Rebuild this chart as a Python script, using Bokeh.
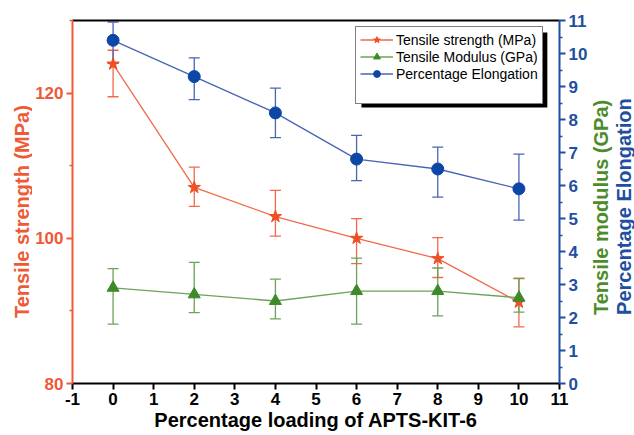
from bokeh.plotting import figure
from bokeh.layouts import row
from bokeh.models import (Range1d, LinearAxis, FixedTicker, Whisker, TeeHead,
                          ColumnDataSource, Legend, LegendItem, BoxAnnotation)
from bokeh.core.properties import value
from bokeh.embed import file_html
from bokeh.resources import INLINE

# ---- data ----
loading = [0, 2, 4, 6, 8, 10]
strength = [124.0, 107.0, 103.0, 100.0, 97.2, 91.2]
strength_lo = [119.5, 104.4, 100.3, 96.5, 94.6, 87.8]
strength_hi = [125.9, 109.8, 106.6, 102.7, 100.1, 94.5]
modulus = [2.9, 2.7, 2.5, 2.8, 2.8, 2.6]
modulus_lo = [1.8, 2.15, 1.96, 1.8, 2.05, 2.16]
modulus_hi = [3.48, 3.67, 3.16, 3.8, 3.5, 3.18]
elong = [10.4, 9.3, 8.2, 6.8, 6.5, 5.9]
elong_lo = [9.7, 8.6, 7.45, 6.15, 5.65, 4.95]
elong_hi = [10.95, 9.87, 8.95, 7.52, 7.16, 6.95]

x_ticks = [-1, 0, 1, 2, 3, 4, 5, 6, 7, 8, 9, 10, 11]
x_tick_labels = {-1: "-1"}
left_major = [80, 100, 120]
left_minor = [90, 110, 130]
right_major = [0, 1, 2, 3, 4, 5, 6, 7, 8, 9, 10, 11]
right_minor = [0.5, 1.5, 2.5, 3.5, 4.5, 5.5, 6.5, 7.5, 8.5, 9.5, 10.5]

x_title = "Percentage loading of APTS-KIT-6"
left_title = ["Tensile strength (MPa)"]
right_titles = ["Tensile modulus (GPa)", "Percentage Elongation"]
names = ["Tensile strength (MPa)", "Tensile Modulus (GPa)", "Percentage Elongation"]

# ---- styles ----
RED_TXT = "#EE5A36"
RED_MK = "#F04E23"
RED_LN = "#F2694A"
GRN_TXT = "#4C8C2B"
GRN_MK = "#3E8A2A"
GRN_LN = "#6BA35A"
BLU_TXT = "#1E4FA0"
BLU_MK = "#0D47A6"
BLU_LN = "#4865B4"
FONT = "Liberation Sans"
LEFT_W = 32
SIDE_W = 44
MAIN_W = 634 - LEFT_W - SIDE_W
H = 435

p = figure(width=MAIN_W, height=H, x_range=Range1d(-1, 11), y_range=Range1d(80, 130),
           output_backend="svg", toolbar_location=None,
           min_border_left=40, min_border_right=31, min_border_top=20, min_border_bottom=52)
p.extra_y_ranges = {"right": Range1d(0, 11)}
p.xgrid.visible = False
p.ygrid.visible = False
p.outline_line_color = None
p.background_fill_color = "white"
p.border_fill_color = "white"

# bottom axis
xa = p.xaxis[0]
xa.ticker = FixedTicker(ticks=x_ticks, minor_ticks=[])
xa.major_label_overrides = x_tick_labels
xa.axis_line_color = "black"
xa.axis_line_width = 2
xa.major_tick_line_color = "black"
xa.major_tick_line_width = 2
xa.major_tick_out = 6
xa.major_tick_in = 0
xa.minor_tick_line_color = None
xa.major_label_text_font = FONT
xa.major_label_text_font_size = "17px"
xa.major_label_text_font_style = "bold"
xa.major_label_text_color = "black"
xa.major_label_standoff = 3
xa.axis_label = x_title
xa.axis_label_text_font = FONT
xa.axis_label_text_font_size = "20px"
xa.axis_label_text_font_style = "bold"
xa.axis_label_text_color = "black"
xa.axis_label_standoff = 1

# left axis
ya = p.yaxis[0]
ya.ticker = FixedTicker(ticks=left_major, minor_ticks=left_minor)
ya.axis_line_color = RED_TXT
ya.axis_line_width = 2
ya.major_tick_line_color = RED_TXT
ya.major_tick_line_width = 2
ya.major_tick_out = 6
ya.major_tick_in = 0
ya.minor_tick_line_color = RED_TXT
ya.minor_tick_line_width = 1.5
ya.minor_tick_out = 3
ya.minor_tick_in = 0
ya.major_label_text_font = FONT
ya.major_label_text_font_size = "17px"
ya.major_label_text_font_style = "bold"
ya.major_label_text_color = RED_TXT
ya.major_label_standoff = 3

# top frame line
top = LinearAxis(ticker=FixedTicker(ticks=[]), axis_line_color="black", axis_line_width=2,
                 major_tick_out=0, major_tick_in=0, minor_tick_out=0, minor_tick_in=0,
                 major_label_standoff=0, major_label_text_font_size="0px")
p.add_layout(top, "above")

# right axis
ra = LinearAxis(y_range_name="right",
                ticker=FixedTicker(ticks=right_major, minor_ticks=right_minor))
ra.axis_line_color = BLU_TXT
ra.axis_line_width = 2
ra.major_tick_line_color = BLU_TXT
ra.major_tick_line_width = 2
ra.major_tick_out = 6
ra.major_tick_in = 0
ra.minor_tick_line_color = BLU_TXT
ra.minor_tick_line_width = 1.5
ra.minor_tick_out = 3
ra.minor_tick_in = 0
ra.major_label_text_font = FONT
ra.major_label_text_font_size = "17px"
ra.major_label_text_font_style = "bold"
ra.major_label_text_color = BLU_TXT
ra.major_label_standoff = 3
p.add_layout(ra, "right")

# error bars
def add_whisker(xs, lo, hi, color, range_name=None):
    src = ColumnDataSource(dict(x=xs, lo=lo, hi=hi))
    kw = {}
    if range_name:
        kw["y_range_name"] = range_name
    w = Whisker(source=src, base="x", lower="lo", upper="hi",
                line_color=color, line_width=1.3,
                upper_head=TeeHead(size=11, line_color=color, line_width=1.3),
                lower_head=TeeHead(size=11, line_color=color, line_width=1.3), **kw)
    p.add_layout(w)

add_whisker(loading, strength_lo, strength_hi, RED_LN)
add_whisker(loading, modulus_lo, modulus_hi, GRN_LN, "right")
add_whisker(loading, elong_lo, elong_hi, BLU_LN, "right")

# series
r1l = p.line(loading, strength, line_color=RED_LN, line_width=1.3)
r1s = p.scatter(loading, strength, marker="star", size=13, fill_color=RED_MK, line_color=RED_MK)
r2l = p.line(loading, modulus, line_color=GRN_LN, line_width=1.3, y_range_name="right")
r2s = p.scatter(loading, modulus, marker="triangle", size=12, fill_color=GRN_MK,
                line_color=GRN_MK, y_range_name="right")
r3l = p.line(loading, elong, line_color=BLU_LN, line_width=1.3, y_range_name="right")
r3s = p.scatter(loading, elong, marker="circle", size=12, fill_color=BLU_MK,
                line_color=BLU_MK, y_range_name="right")
dummy = p.line(x=[], y=[], line_alpha=0)

# legend drop shadow (placed in the plot's x / left-axis coordinates)
shadow = BoxAnnotation(left=6.12, right=10.70, top=128.35, bottom=118.0,
                       fill_color="black", fill_alpha=1.0, line_color=None)
p.add_layout(shadow)

legend = Legend(items=[LegendItem(label=names[0], renderers=[r1l, r1s]),
                       LegendItem(label=names[1], renderers=[r2l, r2s]),
                       LegendItem(label=names[2], renderers=[r3l, r3s]),
                       LegendItem(label=" ", renderers=[dummy])],
                location=(283, 279))
legend.border_line_color = "black"
legend.border_line_width = 1
legend.background_fill_color = "white"
legend.background_fill_alpha = 1.0
legend.padding = 4
legend.margin = 0
legend.spacing = 0
legend.glyph_width = 33
legend.glyph_height = 17
legend.label_height = 17
legend.label_standoff = 3
legend.label_text_font = FONT
legend.label_text_font_size = "14px"
legend.label_text_color = "black"
p.add_layout(legend, "center")


# narrow side panels holding the vertical axis titles (pixel-like coordinates)
def side_panel(w):
    f = figure(width=w, height=H, x_range=Range1d(0, w), y_range=Range1d(0, H),
               output_backend="svg", toolbar_location=None,
               x_axis_type=None, y_axis_type=None,
               min_border_left=0, min_border_right=0, min_border_top=0, min_border_bottom=0)
    f.xgrid.visible = False
    f.ygrid.visible = False
    f.outline_line_color = None
    f.background_fill_color = "white"
    f.border_fill_color = "white"
    return f

left = side_panel(LEFT_W)
left.text(x=[21], y=[206], text=left_title, angle=90, angle_units="deg",
          text_align="center", text_baseline="middle",
          text_font=value(FONT), text_font_size="20px", text_font_style="bold",
          text_color=RED_TXT)

side = side_panel(SIDE_W)
side.text(x=[10, 33], y=[211, 212], text=right_titles, angle=90, angle_units="deg",
          text_align="center", text_baseline="middle",
          text_font=value(FONT), text_font_size="20px", text_font_style="bold",
          text_color=[GRN_TXT, BLU_TXT])

layout = row(left, p, side, spacing=0)
open("out.html", "w").write(file_html(layout, INLINE))
